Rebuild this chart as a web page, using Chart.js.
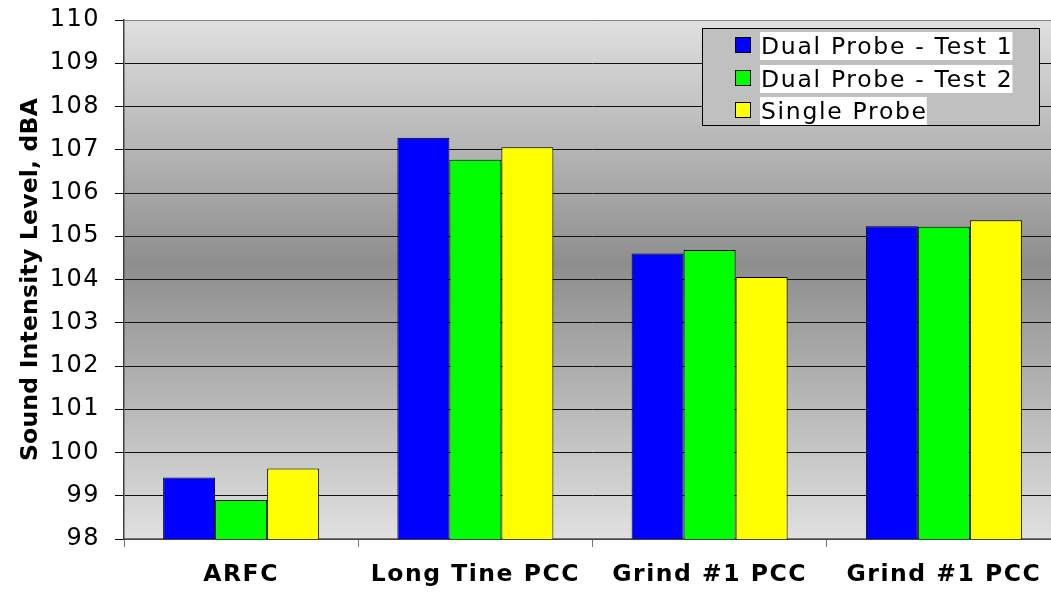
<!DOCTYPE html>
<html>
<head>
<meta charset="utf-8">
<script src="https://cdn.jsdelivr.net/npm/chart.js@4/dist/chart.umd.min.js"></script>
<style>
html,body{margin:0;padding:0;background:#fff;overflow:hidden}
#wrap{width:1062px;height:594px;position:relative}
</style>
</head>
<body>
<div id="wrap"><canvas id="c"></canvas></div>
<script>
const categories = ['ARFC', 'Long Tine PCC', 'Grind #1 PCC', 'Grind #1 PCC'];
const seriesNames = ['Dual Probe - Test 1', 'Dual Probe - Test 2', 'Single Probe'];
const dualProbeTest1 = [99.42, 107.28, 104.60, 105.23];
const dualProbeTest2 = [98.90, 106.77, 104.68, 105.22];
const singleProbe = [99.63, 107.06, 104.06, 105.37];
const seriesColors = ['#0000ff', '#00ff00', '#ffff00'];
const yMin = 98;
const yMax = 110;
const yStep = 1;
const yAxisTitle = 'Sound Intensity Level, dBA';

const FONT = '"DejaVu Sans", "Liberation Sans", Arial, sans-serif';

const bgPlugin = {
  id: 'bgGradient',
  beforeDraw(chart) {
    const {ctx, chartArea: a} = chart;
    const g = ctx.createLinearGradient(0, a.top, 0, a.bottom);
    g.addColorStop(0, '#e0e0e0');
    g.addColorStop(0.47, '#8e8e8e');
    g.addColorStop(1, '#e0e0e0');
    ctx.save();
    ctx.fillStyle = g;
    ctx.fillRect(a.left, a.top, a.right - a.left, a.bottom - a.top);
    ctx.restore();
  }
};

const spacingPlugin = {
  id: 'spacing',
  afterLayout(chart) {
    const sp = {x: {labels: '1.5px', title: '0px'}, y: {labels: '1.5px', title: '0.2px'}};
    ['x', 'y'].forEach(id => {
      const s = chart.scales[id];
      if (!s || s._patched) return;
      const dl = s.drawLabels, dt = s.drawTitle;
      s.drawLabels = function (a) { this.ctx.letterSpacing = sp[id].labels; dl.call(this, a); this.ctx.letterSpacing = '0px'; };
      s.drawTitle = function () { this.ctx.letterSpacing = sp[id].title; dt.call(this); this.ctx.letterSpacing = '0px'; };
      s._patched = true;
    });
  }
};

const legendPlugin = {
  id: 'boxLegend',
  afterDraw(chart) {
    const {ctx, chartArea: a} = chart;
    const bx = a.right - 359, by = a.top + 8, bw = 337, bh = 97;
    ctx.save();
    ctx.fillStyle = '#c0c0c0';
    ctx.fillRect(bx, by, bw, bh);
    ctx.strokeStyle = '#000';
    ctx.lineWidth = 1;
    ctx.strokeRect(Math.round(bx) + 0.5, Math.round(by) + 0.5, bw, bh);
    ctx.font = '23.5px ' + FONT;
    ctx.letterSpacing = '1.7px';
    ctx.textBaseline = 'alphabetic';
    ctx.textAlign = 'left';
    chart.data.datasets.forEach((ds, i) => {
      const base = Math.round(by + 26 + i * 32.5);
      const tx = bx + 59;
      const w = ctx.measureText(ds.label).width;
      ctx.fillStyle = '#fff';
      ctx.fillRect(tx - 1, base - 22, w, 28);
      ctx.fillStyle = ds.backgroundColor;
      ctx.fillRect(bx + 33, base - 17, 16, 16);
      ctx.strokeStyle = '#000';
      ctx.strokeRect(Math.round(bx + 33) + 0.5, base - 17 + 0.5, 15, 15);
      ctx.fillStyle = '#000';
      ctx.fillText(ds.label, tx, base);
    });
    ctx.letterSpacing = '0px';
    ctx.restore();
  }
};

const seriesData = [dualProbeTest1, dualProbeTest2, singleProbe];

new Chart(document.getElementById('c'), {
  type: 'bar',
  data: {
    labels: categories,
    datasets: seriesNames.map((name, i) => ({
      label: name,
      data: seriesData[i],
      backgroundColor: seriesColors[i],
      borderColor: '#000',
      borderWidth: 1,
      borderSkipped: false,
      categoryPercentage: 0.666,
      barPercentage: 1.0
    }))
  },
  options: {
    responsive: true,
    maintainAspectRatio: false,
    animation: false,
    devicePixelRatio: 1,
    layout: {padding: {top: 20, right: 1, left: 0, bottom: 0}},
    plugins: {
      legend: {display: false},
      tooltip: {enabled: false}
    },
    scales: {
      x: {
        offset: true,
        grid: {
          display: true,
          offset: true,
          drawOnChartArea: false,
          drawTicks: true,
          tickLength: 8,
          color: '#777',
          tickColor: '#777'
        },
        border: {display: true, color: '#777', width: 1.5},
        ticks: {
          font: {family: FONT, size: 23.5, weight: 'bold'},
          color: '#000',
          padding: 14,
          maxRotation: 0,
          autoSkip: false
        },
        afterFit(scale) { scale.height = 55; }
      },
      y: {
        min: yMin,
        max: yMax,
        grid: {
          color: (c) => (c.tick && c.tick.value === yMax) ? '#808080' : '#111',
          tickColor: '#000',
          tickLength: 9,
          lineWidth: 1
        },
        border: {display: true, color: '#404040', width: 1.5},
        ticks: {
          stepSize: yStep,
          font: {family: FONT, size: 24, lineHeight: 0.4},
          color: '#000',
          padding: 15
        },
        title: {
          display: true,
          text: yAxisTitle,
          font: {family: FONT, size: 23.5, weight: 'bold'},
          color: '#000',
          padding: {top: 17, bottom: 0}
        },
        afterFit(scale) { scale.width = 124; }
      }
    }
  },
  plugins: [bgPlugin, spacingPlugin, legendPlugin]
});
</script>
</body>
</html>
